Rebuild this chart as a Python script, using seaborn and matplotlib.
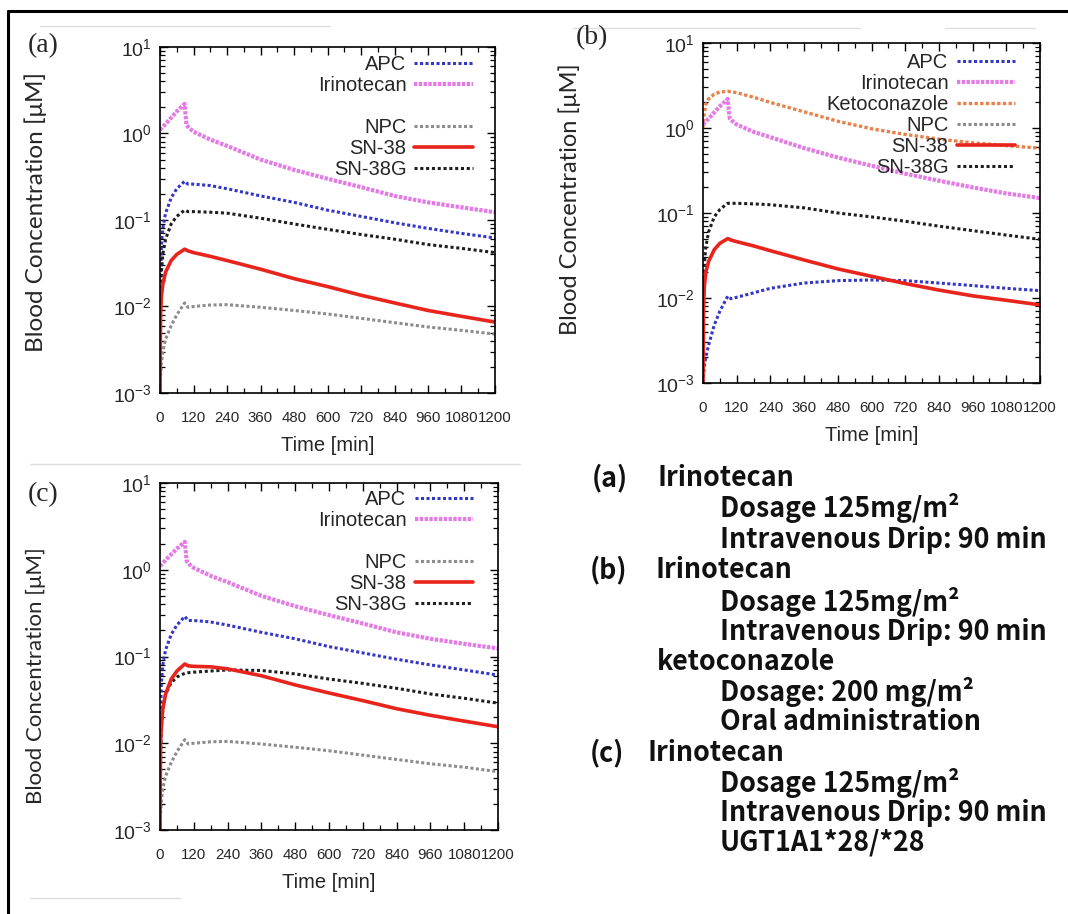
import matplotlib
matplotlib.use("Agg")
import matplotlib.pyplot as plt
from matplotlib.lines import Line2D
from matplotlib.ticker import MultipleLocator, LogLocator, NullFormatter
import seaborn as sns

sns.set_style("ticks")
plt.rcParams["font.family"] = ["Liberation Sans", "DejaVu Sans"]

# time grids (min)
T_IRI = [0, 30, 60, 88, 95, 105, 120, 180, 240, 360, 480, 600, 720, 840, 960, 1080, 1200]
T_MET = [0, 2, 5, 10, 20, 40, 60, 88, 100, 120, 180, 240, 360, 480, 600, 720, 840, 960, 1080, 1200]

# (a) irinotecan alone
A_IRI = [1.1, 1.4, 1.8, 2.2, 1.25, 1.15, 1.05, 0.85, 0.72, 0.5, 0.38, 0.3, 0.24, 0.19, 0.16, 0.14, 0.123]
A_APC = [0.001, 0.02, 0.05, 0.08, 0.12, 0.18, 0.23, 0.28, 0.26, 0.26, 0.25, 0.23, 0.19, 0.16, 0.13, 0.11, 0.093, 0.08, 0.07, 0.062]
A_NPC = [0.001, 0.0015, 0.0022, 0.003, 0.0042, 0.006, 0.008, 0.011, 0.0098, 0.01, 0.0104, 0.0105, 0.0098, 0.009, 0.0082, 0.0073, 0.0065, 0.0058, 0.0053, 0.0048]
A_SN38 = [0.001, 0.008, 0.013, 0.018, 0.025, 0.034, 0.04, 0.046, 0.044, 0.042, 0.038, 0.034, 0.027, 0.021, 0.017, 0.0135, 0.011, 0.009, 0.0077, 0.0066]
A_SN38G = [0.001, 0.01, 0.025, 0.04, 0.06, 0.09, 0.11, 0.13, 0.125, 0.125, 0.123, 0.12, 0.105, 0.09, 0.078, 0.068, 0.06, 0.052, 0.047, 0.042]

# (b) with ketoconazole
B_IRI = [1.1, 1.4, 1.8, 2.2, 1.3, 1.2, 1.1, 0.9, 0.78, 0.58, 0.45, 0.36, 0.29, 0.24, 0.2, 0.17, 0.15]
B_APC = [0.001, 0.0012, 0.0016, 0.002, 0.0028, 0.0048, 0.007, 0.0105, 0.0098, 0.0102, 0.0115, 0.013, 0.015, 0.016, 0.0163, 0.016, 0.015, 0.014, 0.013, 0.0122]
B_KETO = [1.0, 1.3, 1.5, 1.9, 2.2, 2.5, 2.65, 2.7, 2.68, 2.6, 2.3, 2.0, 1.55, 1.2, 0.98, 0.84, 0.74, 0.67, 0.62, 0.58]
B_NPC = []  # below the plotted range
B_SN38 = [0.001, 0.008, 0.014, 0.02, 0.027, 0.037, 0.044, 0.05, 0.048, 0.046, 0.041, 0.036, 0.028, 0.022, 0.018, 0.0148, 0.0124, 0.0106, 0.0094, 0.0083]
B_SN38G = [0.001, 0.01, 0.025, 0.04, 0.06, 0.09, 0.11, 0.13, 0.13, 0.13, 0.128, 0.125, 0.115, 0.1, 0.09, 0.08, 0.07, 0.062, 0.055, 0.049]

# (c) UGT1A1*28/*28
C_IRI = [1.1, 1.4, 1.75, 2.1, 1.25, 1.15, 1.05, 0.85, 0.72, 0.5, 0.38, 0.3, 0.24, 0.19, 0.16, 0.14, 0.124]
C_APC = [0.001, 0.02, 0.05, 0.08, 0.12, 0.18, 0.23, 0.29, 0.26, 0.26, 0.25, 0.23, 0.19, 0.16, 0.13, 0.11, 0.093, 0.08, 0.07, 0.061]
C_NPC = [0.001, 0.0015, 0.0022, 0.003, 0.0042, 0.006, 0.008, 0.011, 0.0098, 0.01, 0.0104, 0.0105, 0.0098, 0.009, 0.0082, 0.0073, 0.0065, 0.0058, 0.0053, 0.0047]
C_SN38 = [0.001, 0.01, 0.016, 0.025, 0.037, 0.055, 0.068, 0.082, 0.078, 0.077, 0.076, 0.072, 0.06, 0.047, 0.038, 0.031, 0.025, 0.021, 0.018, 0.0155]
C_SN38G = [0.001, 0.008, 0.015, 0.025, 0.037, 0.05, 0.058, 0.064, 0.065, 0.066, 0.068, 0.07, 0.069, 0.063, 0.055, 0.049, 0.043, 0.037, 0.033, 0.029]

STYLE = {
    "APC": dict(color="#3535c8", lw=2.2, ls=(0, (1, 0.8))),
    "Irinotecan": dict(color="#e47ae4", lw=3.0, ls=(0, (0.8, 0.35))),
    "Ketoconazole": dict(color="#e8804a", lw=2.4, ls=(0, (1, 0.7))),
    "NPC": dict(color="#8c8c8c", lw=2.2, ls=(0, (1, 0.8))),
    "SN-38": dict(color="#e8241c", lw=2.6, ls="-"),
    "SN-38G": dict(color="#1e1e1e", lw=2.2, ls=(0, (1, 0.9))),
}

fig = plt.figure(figsize=(10.68, 9.14), dpi=100)
W, H = 1068, 914


def px_axes(l, t, r, b):
    return fig.add_axes([l / W, 1 - b / H, (r - l) / W, (b - t) / H])


def draw_panel(ax, series, order, anchor, ylab_pos, ylab_size, tag, tag_xy):
    for name, t, c in series:
        st = STYLE[name]
        if len(c):
            sns.lineplot(x=t, y=c, ax=ax, color=st["color"], linewidth=st["lw"],
                         linestyle=st["ls"], estimator=None, legend=False)
    ax.set_yscale("log")
    ax.set_xlim(0, 1200)
    ax.set_ylim(1e-3, 10)
    ax.set_xticks(range(0, 1201, 120))
    ax.xaxis.set_minor_locator(MultipleLocator(60))
    ax.yaxis.set_major_locator(LogLocator(base=10, numticks=10))
    ax.yaxis.set_minor_locator(LogLocator(base=10, subs=range(2, 10), numticks=20))
    ax.yaxis.set_minor_formatter(NullFormatter())
    ax.tick_params(which="both", direction="in", top=True, right=True, color="black")
    ax.tick_params(which="major", length=6, width=1.0)
    ax.tick_params(which="minor", length=3.5, width=0.9)
    ax.tick_params(axis="x", which="major", labelsize=10.8, pad=13)
    ax.tick_params(axis="y", which="major", labelsize=14, pad=6)
    for sp in ax.spines.values():
        sp.set_visible(True)
        sp.set_linewidth(1.2)
        sp.set_color("black")
    ax.set_xlabel("Time [min]", fontsize=14.5, labelpad=8)
    ax.set_ylabel("Blood Concentration [μM]", fontsize=ylab_size, family=["Lato", "DejaVu Sans"])
    ax.yaxis.set_label_coords(*ylab_pos)

    handles = []
    for name in order:
        if name is None:
            handles.append(Line2D([], [], linestyle="none", label=" "))
        else:
            st = STYLE[name]
            handles.append(Line2D([], [], color=st["color"], lw=st["lw"], ls=st["ls"], label=name))
    ax.legend(handles=handles, loc="upper right", bbox_to_anchor=anchor, frameon=False,
              markerfirst=False, fontsize=14.5, handlelength=2.9, handletextpad=0.4,
              labelspacing=0.1, borderpad=0, borderaxespad=0)
    fig.text(tag_xy[0] / W, 1 - tag_xy[1] / H, tag, fontsize=20,
             family=["Liberation Serif", "DejaVu Serif"], va="center", ha="left")


ax_a = px_axes(160, 47, 495, 393)
draw_panel(ax_a,
           [("Irinotecan", T_IRI, A_IRI), ("APC", T_MET, A_APC), ("SN-38G", T_MET, A_SN38G),
            ("NPC", T_MET, A_NPC), ("SN-38", T_MET, A_SN38)],
           ["APC", "Irinotecan", None, "NPC", "SN-38", "SN-38G"],
           (0.934, 0.978), (-0.337, 0.523), 17.5, "(a)", (28, 46))

ax_b = px_axes(703, 43, 1040, 383)
draw_panel(ax_b,
           [("Ketoconazole", T_MET, B_KETO), ("Irinotecan", T_IRI, B_IRI), ("SN-38G", T_MET, B_SN38G),
            ("APC", T_MET, B_APC), ("NPC", T_MET, B_NPC), ("SN-38", T_MET, B_SN38)],
           ["APC", "Irinotecan", "Ketoconazole", "NPC", "SN-38", "SN-38G"],
           (0.926, 0.97), (-0.362, 0.54), 17, "(b)", (576, 38))

ax_c = px_axes(160, 483, 498, 830)
draw_panel(ax_c,
           [("Irinotecan", T_IRI, C_IRI), ("APC", T_MET, C_APC), ("SN-38G", T_MET, C_SN38G),
            ("NPC", T_MET, C_NPC), ("SN-38", T_MET, C_SN38)],
           ["APC", "Irinotecan", None, "NPC", "SN-38", "SN-38G"],
           (0.926, 0.98), (-0.337, 0.444), 16, "(c)", (28, 495))

# protocol notes
NOTE_FONT = ["Noto Sans CJK JP", "DejaVu Sans"]
notes = [
    (592, 478, "(a)"), (657, 478, "Irinotecan"),
    (720, 508, "Dosage 125mg/m²"),
    (720, 540, "Intravenous Drip: 90 min"),
    (590, 570, "(b)"), (655, 570, "Irinotecan"),
    (720, 602, "Dosage 125mg/m²"),
    (720, 632, "Intravenous Drip: 90 min"),
    (657, 662, "ketoconazole"),
    (720, 692, "Dosage: 200 mg/m²"),
    (720, 722, "Oral administration"),
    (590, 753, "(c)"), (647, 753, "Irinotecan"),
    (720, 783, "Dosage 125mg/m²"),
    (720, 813, "Intravenous Drip: 90 min"),
    (720, 843, "UGT1A1*28/*28"),
]
for x, y, s in notes:
    fig.text(x / W, 1 - y / H, s, fontsize=19.3, family=NOTE_FONT, weight="bold",
             va="center", ha="left", color="#111111")

# frame of the original figure
fig.add_artist(Line2D([8 / W, 1], [1 - 11 / H, 1 - 11 / H], color="black", lw=2.2))
fig.add_artist(Line2D([8 / W, 8 / W], [0, 1 - 11 / H], color="black", lw=2.2))
for x0, x1, y in [(40, 330, 26), (573, 860, 28), (945, 1035, 28), (30, 520, 464), (30, 180, 898)]:
    fig.add_artist(Line2D([x0 / W, x1 / W], [1 - y / H, 1 - y / H], color="#dedede", lw=1.0))

fig.savefig("out.png", dpi=100)
